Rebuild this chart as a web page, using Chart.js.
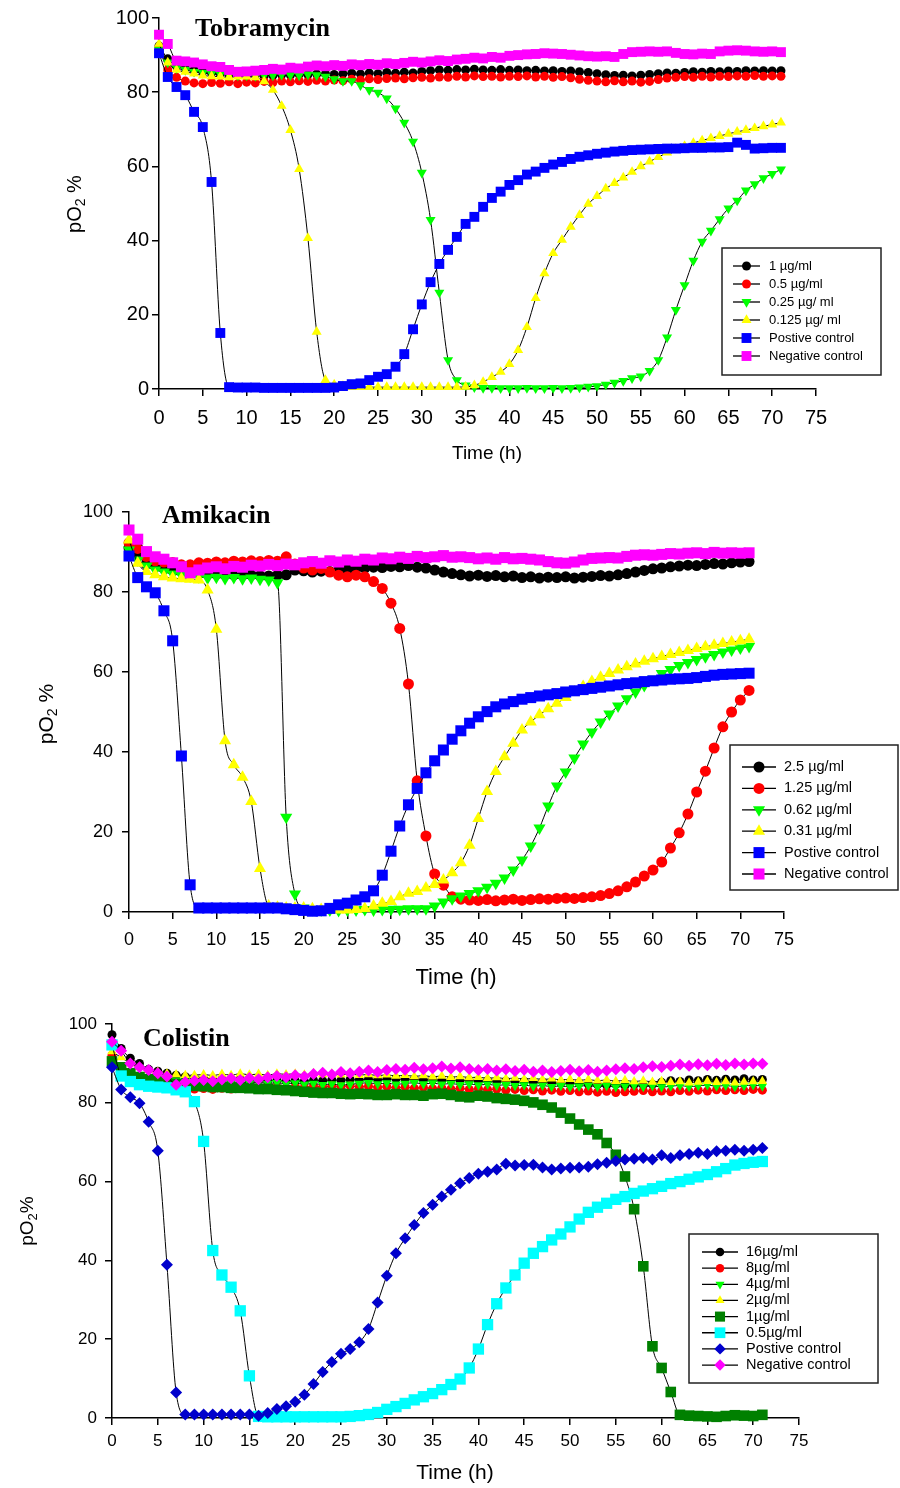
<!DOCTYPE html>
<html>
<head>
<meta charset="utf-8">
<title>pO2 curves</title>
<script src="https://cdn.jsdelivr.net/npm/chart.js@4.4.0/dist/chart.umd.min.js"></script>
<style>
  html, body { margin: 0; padding: 0; background: #fff; }
  body { width: 900px; height: 1488px; position: relative; overflow: hidden; }
  canvas { position: absolute; left: 0; }
</style>
</head>
<body>
<canvas id="tobraChart" width="900" height="480" style="top:0px"></canvas>
<canvas id="amiChart" width="900" height="510" style="top:490px"></canvas>
<canvas id="coliChart" width="900" height="488" style="top:1000px"></canvas>
<script>
// sampling times (h)
const hours = [0,1,2,3,4,5,6,7,8,9,10,11,12,13,14,15,16,17,18,19,20,21,22,23,24,25,26,27,28,29,30,31,32,33,34,35,
  36,37,38,39,40,41,42,43,44,45,46,47,48,49,50,51,52,53,54,55,56,57,58,59,60,61,62,63,64,65,66,67,68,69,70,71];
const xTicks = { min: 0, max: 75, step: 5 };
const yTicks = { min: 0, max: 100, step: 20 };

// Tobramycin, pO2 %
const tobraLabels = ['1 µg/ml', '0.5 µg/ml', '0.25 µg/ ml', '0.125 µg/ ml', 'Postive control', 'Negative control'];
const tobra1 = [92.5,89,87,86.5,86,85.5,85.2,85,84.8,84.6, 84.5,84.6,84.4,84.5,84.7,84.6,84.8,84.7,84.9,85, 84.8,85,85.1,84.9,85.2,85,85.3,85.1,85.4,85.2,
  85.6,85.8,86,85.9,86.1,86,86.2,86,85.9,86.1, 85.9,86,85.8,85.9,85.7,85.8,85.6,85.7,85.5,85.3, 85,84.7,84.5,84.6,84.4,84.6,84.8,85,85.2,85.1,
  85.3,85.5,85.4,85.6,85.5,85.7,85.6,85.8,85.7,85.8, 85.7,85.8];
const tobra05 = [92,86,84,83,82.5,82.3,82.6,82.4,82.8,82.3, 82.7,82.5,82.9,82.6,83,82.8,83.1,82.9,83.2,83, 83.3,83.1,83.5,83.3,83.6,83.4,83.7,83.8,83.6,83.9,
  84,83.8,84.1,84,84.3,84.1,84.4,84.2,84.3,84.1, 84.3,84.2,84.4,84.1,84.3,84,84.2,83.9,83.5,83.2, 83,82.8,83.1,82.8,83,82.7,82.9,83.4,83.8,84,
  84.2,84,84.3,84.1,84.3,84.2,84.4,84.3,84.5,84.3, 84.4,84.3];
const tobra025 = [91.5,88,86.5,86,85.5,85.2,85,84.8,84.6,84.5, 84.5,84.4,84.6,84.5,84.7,84.6,84.5,84.8,84.6,84.2, 83.5,83,83,81.9,80.6,79.9,78.3,75.6,71.8,66.7,
  58.3,45.6,26,7.8,2.4,1,0.5,0.3,0.3,0.2, 0.2,0.2,0.3,0.2,0.2,0.3,0.2,0.3,0.4,0.6, 0.8,1.2,1.7,2.2,2.9,3.4,4.9,7.8,13.9,21.3,
  28,34.6,39.7,42.7,45.8,48.7,50.8,53.5,55.2,56.8, 58,59.2];
const tobra0125 = [93,88,86,85.5,85,84.5,84.3,84.2,84,84.2, 84.2,84,82.9,80.6,76.3,69.8,59.3,40.7,15.4,2.4, 1.2,0.8,0.6,0.5,0.5,0.5,0.5,0.5,0.5,0.5,
  0.5,0.5,0.5,0.5,0.5,0.6,1,1.9,3.2,4.6, 6.7,10.5,16.7,24.5,31.2,36.6,40.2,43.7,46.9,49.9, 52,54,55.5,57,58.5,60,61.3,62.5,63.7,64.7,
  65.5,66.3,67,67.6,68.2,68.8,69.3,69.8,70.3,70.8, 71.3,71.8];
const tobraPos = [90.5,84.1,81.4,79.2,74.7,70.6,55.8,15.1,0.5,0.4, 0.4,0.4,0.3,0.3,0.3,0.3,0.3,0.3,0.3,0.3, 0.4,0.8,1.3,1.5,2.4,3.3,4,6,9.4,16.1,
  22.8,28.8,33.7,37.5,41,44.5,46.4,49.1,51.5,53.2, 55,56.3,57.8,58.6,59.6,60.5,61.2,62,62.6,63, 63.4,63.7,64,64.2,64.4,64.5,64.6,64.7,64.8,64.8,
  64.9,65,65,65.1,65.1,65.2,66.4,65.8,64.8,64.9, 65,65];
const tobraNeg = [95.5,93,88.5,88.3,88,87.5,87,86.8,86,85.5, 85.6,85.8,86,86.3,86.1,86.6,86.4,86.9,87.2,87, 87.3,87.1,87.5,87.3,87.6,87.4,87.8,87.6,87.9,88.2,
  88,88.3,88.6,88.4,88.8,89,89.3,89.1,89.5,89.3, 89.8,90,90.2,90.3,90.5,90.4,90.3,90.1,89.9,89.7, 89.6,89.7,89.5,90.3,90.8,90.9,91,90.9,91,90.6,
  90.3,90.2,90.4,90.3,91,91.2,91.3,91.2,91,90.9, 91,90.8];

// Amikacin, pO2 %
const amiLabels = ['2.5 µg/ml', '1.25 µg/ml', '0.62 µg/ml', '0.31 µg/ml', 'Postive control', 'Negative control'];
const ami25 = [91,89,87,86.5,86,85.5,85.2,85,84.8,84.6, 84.5,84.4,84.3,84.2,84.3,84.1,84,84.2,84.3,85.5, 85.3,85,85.2,85.1,85.4,85.6,85.9,86,86.2,86.1,
  86.4,86.3,86.6,86.2,86,85.5,85,84.6,84.3,84, 84.2,83.9,84.1,83.8,84,83.6,83.8,83.5,83.7,83.6, 83.8,83.5,83.7,83.9,84.1,84,84.3,84.6,85,85.4,
  85.8,86,86.3,86.5,86.7,86.6,86.9,87.1,87,87.3, 87.5,87.6];
const ami125 = [92.3,90.9,88.9,87.8,87.5,87.4,86.8,86.8,87.3,87.2, 87.5,87.3,87.7,87.5,87.8,87.6,87.9,87.7,88.8,87, 86,85.5,85.9,85,84.2,83.8,84.2,83.8,82.6,80.9,
  77.2,70.9,57,32.8,19,9.5,6.7,3.8,3.2,3, 2.9,3.1,2.8,3,3.2,2.9,3.1,3.3,3.2,3.4, 3.5,3.4,3.6,3.8,4.1,4.6,5.3,6.3,7.5,9,
  10.5,12.5,16,19.8,24.5,30,35.2,41,46.3,50, 53,55.4];
const ami062 = [90.5,88,86.5,85.5,85,84.5,84.2,84,83.8,83.5, 83.7,83.4,83.6,83.3,83.5,83.2,83,82.3,23.7,4.5, 1,0.6,0.5,0.5,0.4,0.5,0.5,0.6,0.5,0.6,
  0.7,0.7,0.8,0.8,0.8,1.5,2.5,3.3,4,4.6, 5.3,6.2,7.2,8.5,10.5,13,16.5,21,26.5,31.5, 35,38.5,42,45,47.5,49.5,51.5,53.3,55,56.6,
  58.2,59.6,60.6,61.6,62.4,63.1,63.8,64.4,65,65.5, 66,66.4];
const ami031 = [93,87.2,85.1,84.3,83.8,83.5,83.3,83.2,83,80.5, 70.7,42.8,36.8,33.7,27.6,10.9,1.5,1.2,1,1, 1,0.8,0.6,0.5,0.5,0.5,0.6,0.9,1.5,2.2,
  2.6,3.8,4.7,5.1,6,6.9,8,9.8,12.3,16.7, 23.4,30.1,35.1,38.8,42.2,45.5,47.5,49.3,50.8,52.2, 53.6,55,56.4,57.6,58.7,59.6,60.5,61.3,62,62.7,
  63.3,63.9,64.4,64.9,65.4,65.9,66.3,66.7,67.1,67.5, 67.8,68.2];
const amiPos = [89,83.6,81.3,79.8,75.3,67.8,39,6.8,1,1, 1,1,1,1,1,1,1,1,0.8,0.6, 0.4,0.2,0.3,0.9,1.8,2.2,3,3.8,5.3,9.2,
  15.2,21.5,26.8,30.9,34.8,37.8,40.5,43.2,45.3,47.2, 48.8,50.1,51.3,52,52.6,53.2,53.6,54,54.3,54.6, 55,55.3,55.6,55.9,56.2,56.5,56.8,57.1,57.3,57.6,
  57.8,58,58.2,58.3,58.4,58.6,58.9,59.2,59.4,59.5, 59.6,59.7];
const amiNeg = [95.5,93.2,90.1,88.8,88.2,87.3,86.3,84.8,85.5,86, 86.3,85.8,86.4,86.2,86.7,86.5,86.9,86.6,87,86.8, 87.3,87.6,87.2,87.8,87.5,88,87.7,88.2,88,88.5,
  88.3,88.7,88.4,88.9,88.6,88.8,89.1,88.7,88.8,88.6, 88.3,88.5,88.2,88.6,88.3,88.4,88.2,88,87.6,87.3, 87.2,87.5,88,88.4,88.5,88.6,88.5,88.9,89.2,89.3,
  89.2,89.4,89.6,89.5,89.7,89.8,89.6,89.9,89.7,89.8, 89.7,89.8];

// Colistin, pO2 %
const coliLabels = ['16µg/ml', '8µg/ml', '4µg/ml', '2µg/ml', '1µg/ml', '0.5µg/ml', 'Postive control', 'Negative control'];
const coli16 = [97.3,93.8,91.3,90,88.5,88,87.5,87,86.6,86.3, 86.2,86,85.9,85.8,85.9,85.7,85.8,85.6,85.7,85.5, 85.6,85.5,85.7,85.6,85.8,85.7,85.9,85.8,86,85.9,
  86,86.1,85.9,86,85.8,85.9,85.7,85.8,85.6,85.7, 85.5,85.6,85.4,85.5,85.3,85.4,85.2,85.3,85.1,85, 84.9,85,84.7,84.6,84.5,84.7,84.4,84.6,84.5,84.7,
  85.2,85.6,85.4,85.8,85.6,85.9,85.7,86,85.8,86.1, 85.8,85.9];
const coli8 = [92,89,87,86,85.5,85,84.5,84,83.7,83.5, 83.6,83.4,83.7,83.5,83.8,83.6,83.9,83.7,84,83.8, 84.1,83.9,84.2,84,84.3,84.1,84.3,84,84.2,83.9,
  84.1,83.8,84,83.7,83.9,83.6,83.8,83.5,83.7,83.4, 83.6,83.3,83.5,83.2,83.4,83.1,83.3,83,83.2,82.9, 83.1,82.8,83,82.7,82.9,82.6,82.8,82.9,83.1,82.8,
  83,82.8,83.1,82.9,83.2,83,83.3,83.1,83.3,83.1, 83.4,83.2];
const coli4 = [91,89.5,88,87.2,86.6,86.2,85.9,85.7,85.5,85.4, 85.3,85.2,85.4,85.1,85.3,85,85.2,84.9,85.1,84.8, 85,84.7,84.9,84.6,84.8,84.5,84.7,84.9,85.1,84.8,
  85,84.7,84.9,85.1,84.8,85,84.7,84.9,84.6,84.8, 84.5,84.7,84.4,84.6,84.3,84.5,84.2,84.4,84.1,84.3, 84,84.2,84.4,84.1,84.3,84,84.2,84.4,84.1,84.3,
  84,84.2,84.4,84.1,84.3,84.5,84.2,84.4,84.1,84.3, 84.5,84.2];
const coli2 = [93,91.5,90,89,88.3,87.8,87.4,87.2,87,87, 87.2,86.9,87.3,87,87.4,87.1,87.3,87,87.4,87.2, 87.4,87.1,87.5,87.2,87.4,87.1,87.3,87,87.2,86.9,
  87.1,86.8,87,86.7,86.9,86.6,86.8,86.5,86.7,86.4, 86.5,86.2,86.4,86.1,86.3,86,86.2,85.9,86.1,85.8, 86,85.7,85.9,85.6,85.8,85.5,85.7,85.4,85.6,85.3,
  85.5,85.2,85.4,85.1,85.3,85.5,85.2,85.4,85.1,85.3, 85.4,85.5];
const coli1 = [90.5,89,87.5,86.5,86,85.5,85,84.8,84.5,84.3, 84.2,84,84,83.8,83.8,83.7,83.5,83.5,83.3,83.2, 83,82.8,82.6,82.5,82.5,82.3,82.2,82.3,82.2,82,
  82,82.2,82,82,81.8,82.2,82.3,82,81.6,81.4, 81.8,81.6,81.2,81,80.8,80.5,80.1,79.5,78.8,77.5, 76,74.5,73.2,72,69.8,66.8,61.3,53,38.5,18.2,
  12.7,6.6,0.8,0.6,0.5,0.4,0.3,0.5,0.7,0.6, 0.5,0.8];
const coli05 = [94.7,86.8,85.4,84.6,84.2,84,83.8,83.3,82.8,80.3, 70.2,42.5,36.3,33.2,27.2,10.7,0.4,0.3,0.3,0.3, 0.3,0.3,0.3,0.3,0.3,0.3,0.4,0.6,0.9,1.4,
  2.2,2.9,3.7,4.6,5.4,6.2,7.2,8.5,9.9,12.7, 17.5,23.7,29,33,36.3,39.3,41.8,43.5,45.2,46.7, 48.5,50.5,52.2,53.5,54.5,55.5,56.2,57,57.6,58.2,
  58.8,59.5,60,60.6,61.2,61.8,62.5,63.3,64.2,64.6, 64.9,65.1];
const coliPos = [89,83.4,81.4,79.9,75.2,67.8,38.9,6.5,0.9,0.9, 0.9,0.9,0.9,0.9,0.9,0.9,0.6,1.3,2.3,3, 4.1,5.9,8.6,11.7,14.2,16.3,17.5,19.2,22.6,29.3,
  36.1,41.8,45.6,49,52,54.1,56.2,57.9,59.6,60.9, 62,62.5,63.1,64.5,64.1,64.2,64.3,63.6,63.1,63.3, 63.5,63.6,63.8,64.4,64.8,65.2,65.6,65.8,66,65.6,
  66.7,66,66.7,67,67.3,67,67.7,67.8,68.1,67.8, 68.1,68.5];
const coliNeg = [95.5,93.2,90,89,88.3,87.5,86.7,84.6,85.3,85.6, 85.8,85.5,85.9,86.2,85.8,86.3,86,86.5,86.8,86.5, 87,86.7,87.3,87.6,87.2,87.8,87.5,87.9,88.2,87.8,
  88.3,88.6,88.4,88.9,88.5,88.8,89.2,88.7,89,88.6, 88.3,88.6,88.2,88.5,88.1,88.4,87.9,88.2,87.8,88.1, 88.4,88,88.3,87.9,88.2,88.5,88.8,88.6,89,89.3,
  89.1,89.4,89.7,89.4,89.8,89.5,89.9,89.6,90,89.7, 90,89.9];

const SANS = '"Liberation Sans", Arial, sans-serif';
const SERIF = '"Liberation Serif", "Times New Roman", serif';

// one series: black smoothed line with coloured markers
function series(label, values, color, style, radius, rotation, idx) {
  return {
    label: label,
    data: hours.map((h, i) => ({ x: h, y: values[i] })),
    showLine: true,
    borderColor: '#000',
    borderWidth: 1,
    cubicInterpolationMode: 'monotone',
    pointStyle: style,
    rotation: rotation || 0,
    pointRotation: rotation || 0,
    pointRadius: radius,
    pointHoverRadius: radius,
    pointBackgroundColor: color,
    pointBorderColor: color,
    pointBorderWidth: 0,
    clip: false,
    order: -idx   // later series drawn on top
  };
}

// titles, axis captions and boxed legend drawn inside each panel
const panelDecor = {
  id: 'panelDecor',
  afterDraw(chart, args, o) {
    const ctx = chart.ctx;
    ctx.save();
    ctx.fillStyle = '#000';

    ctx.font = 'bold 26px ' + SERIF;
    ctx.textAlign = 'left';
    ctx.textBaseline = 'alphabetic';
    ctx.fillText(o.title, o.titleX, o.titleY);

    ctx.font = o.xTitleSize + 'px ' + SANS;
    ctx.textAlign = 'center';
    ctx.textBaseline = 'middle';
    ctx.fillText(o.xTitle, o.xTitleX, o.xTitleY);

    // rotated "pO2 %" with subscript
    const fs = o.yTitleSize;
    const subFs = Math.round(fs * 0.68);
    ctx.font = fs + 'px ' + SANS;
    const w1 = ctx.measureText(o.yTitle[0]).width;
    const w3 = ctx.measureText(o.yTitle[2]).width;
    ctx.font = subFs + 'px ' + SANS;
    const w2 = ctx.measureText(o.yTitle[1]).width;
    const total = w1 + w2 + w3;
    ctx.translate(o.yTitleX, o.yTitleY);
    ctx.rotate(-Math.PI / 2);
    ctx.textAlign = 'left';
    ctx.textBaseline = 'middle';
    ctx.font = fs + 'px ' + SANS;
    ctx.fillText(o.yTitle[0], -total / 2, 0);
    ctx.font = subFs + 'px ' + SANS;
    ctx.fillText(o.yTitle[1], -total / 2 + w1, fs * 0.3);
    ctx.font = fs + 'px ' + SANS;
    ctx.fillText(o.yTitle[2], -total / 2 + w1 + w2, 0);
    ctx.setTransform(1, 0, 0, 1, 0, 0);

    const lg = o.legend;
    ctx.fillStyle = '#fff';
    ctx.fillRect(lg.x, lg.y, lg.w, lg.h);
    ctx.strokeStyle = '#222';
    ctx.lineWidth = 1.5;
    ctx.strokeRect(lg.x, lg.y, lg.w, lg.h);
    chart.data.datasets.forEach((ds, i) => {
      const y = lg.row0 + i * lg.rowStep;
      ctx.strokeStyle = '#000';
      ctx.lineWidth = 1.3;
      ctx.beginPath();
      ctx.moveTo(lg.line0, y);
      ctx.lineTo(lg.line1, y);
      ctx.stroke();
      ctx.fillStyle = ds.pointBackgroundColor;
      Chart.helpers.drawPoint(ctx, {
        pointStyle: ds.pointStyle, rotation: ds.pointRotation,
        radius: ds.pointRadius * lg.markScale, borderWidth: 0
      }, (lg.line0 + lg.line1) / 2, y);
      ctx.fillStyle = '#000';
      ctx.font = lg.fontSize + 'px ' + SANS;
      ctx.textAlign = 'left';
      ctx.textBaseline = 'middle';
      ctx.fillText(ds.label, lg.textX, y);
    });
    ctx.restore();
  }
};

function makeChart(id, datasets, box, decor) {
  return new Chart(document.getElementById(id), {
    type: 'scatter',
    data: { datasets: datasets },
    options: {
      responsive: false,
      animation: false,
      events: [],
      layout: { padding: { left: 0, top: box.top, right: 900 - box.right, bottom: 0 } },
      scales: {
        x: {
          type: 'linear', min: xTicks.min, max: xTicks.max,
          afterFit: s => { s.height = box.canvasH - box.bottom; },
          ticks: { stepSize: xTicks.step, color: '#000', padding: box.xPad, maxRotation: 0, autoSkip: false,
                   font: { family: SANS, size: box.tickSize } },
          grid: { display: true, drawOnChartArea: false, drawTicks: true, tickLength: 7, color: '#000', lineWidth: 1.5 },
          border: { display: true, color: '#000', width: 1.5 }
        },
        y: {
          type: 'linear', min: yTicks.min, max: yTicks.max,
          afterFit: s => { s.width = box.left; },
          ticks: { stepSize: yTicks.step, color: '#000', padding: box.yPad,
                   font: { family: SANS, size: box.tickSize } },
          grid: { display: true, drawOnChartArea: false, drawTicks: true, tickLength: 7, color: '#000', lineWidth: 1.5 },
          border: { display: true, color: '#000', width: 1.5 }
        }
      },
      plugins: {
        legend: { display: false },
        tooltip: { enabled: false },
        panelDecor: decor
      }
    },
    plugins: [panelDecor]
  });
}

makeChart('tobraChart', [
  series(tobraLabels[0], tobra1, '#000000', 'circle', 4.5, 0, 0),
  series(tobraLabels[1], tobra05, '#ff0000', 'circle', 4.5, 0, 1),
  series(tobraLabels[2], tobra025, '#00ff00', 'triangle', 5.8, 180, 2),
  series(tobraLabels[3], tobra0125, '#ffff00', 'triangle', 5.8, 0, 3),
  series(tobraLabels[4], tobraPos, '#0000ff', 'rect', 7, 0, 4),
  series(tobraLabels[5], tobraNeg, '#ff00ff', 'rect', 7, 0, 5)
], { canvasH: 480, top: 18, bottom: 389, left: 159, right: 816, tickSize: 20, xPad: 10, yPad: 3 }, {
  title: 'Tobramycin', titleX: 195, titleY: 36,
  xTitle: 'Time (h)', xTitleX: 487, xTitleY: 454, xTitleSize: 19,
  yTitle: ['pO', '2', ' %'], yTitleX: 75, yTitleY: 204, yTitleSize: 20,
  legend: { x: 722, y: 248, w: 159, h: 127, row0: 266, rowStep: 18, line0: 733, line1: 760,
            textX: 769, fontSize: 13, markScale: 1 }
});

makeChart('amiChart', [
  series(amiLabels[0], ami25, '#000000', 'circle', 5.5, 0, 0),
  series(amiLabels[1], ami125, '#ff0000', 'circle', 5.5, 0, 1),
  series(amiLabels[2], ami062, '#00ff00', 'triangle', 7, 180, 2),
  series(amiLabels[3], ami031, '#ffff00', 'triangle', 7, 0, 3),
  series(amiLabels[4], amiPos, '#0000ff', 'rect', 7.8, 0, 4),
  series(amiLabels[5], amiNeg, '#ff00ff', 'rect', 7.8, 0, 5)
], { canvasH: 510, top: 22, bottom: 422, left: 129, right: 784, tickSize: 18, xPad: 10, yPad: 9 }, {
  title: 'Amikacin', titleX: 162, titleY: 33,
  xTitle: 'Time (h)', xTitleX: 456, xTitleY: 488, xTitleSize: 22,
  yTitle: ['pO', '2', ' %'], yTitleX: 47, yTitleY: 224, yTitleSize: 21,
  legend: { x: 730, y: 255, w: 168, h: 145, row0: 277, rowStep: 21.4, line0: 742, line1: 776,
            textX: 784, fontSize: 14.5, markScale: 1 }
});

makeChart('coliChart', [
  series(coliLabels[0], coli16, '#000000', 'circle', 4.5, 0, 0),
  series(coliLabels[1], coli8, '#ff0000', 'circle', 4.5, 0, 1),
  series(coliLabels[2], coli4, '#00ff00', 'triangle', 5.5, 180, 2),
  series(coliLabels[3], coli2, '#ffff00', 'triangle', 5.5, 0, 3),
  series(coliLabels[4], coli1, '#008000', 'rect', 7.5, 0, 4),
  series(coliLabels[5], coli05, '#00ffff', 'rect', 8, 0, 5),
  series(coliLabels[6], coliPos, '#0000cc', 'rectRot', 6, 0, 6),
  series(coliLabels[7], coliNeg, '#ff00ff', 'rectRot', 6, 0, 7)
], { canvasH: 488, top: 24, bottom: 418, left: 112, right: 799, tickSize: 17, xPad: 6, yPad: 8 }, {
  title: 'Colistin', titleX: 143, titleY: 46,
  xTitle: 'Time (h)', xTitleX: 455, xTitleY: 473, xTitleSize: 21,
  yTitle: ['pO', '2', '%'], yTitleX: 28, yTitleY: 221, yTitleSize: 19,
  legend: { x: 689, y: 234, w: 189, h: 149, row0: 252, rowStep: 16.15, line0: 702, line1: 738,
            textX: 746, fontSize: 14.5, markScale: 0.95 }
});
</script>
</body>
</html>
